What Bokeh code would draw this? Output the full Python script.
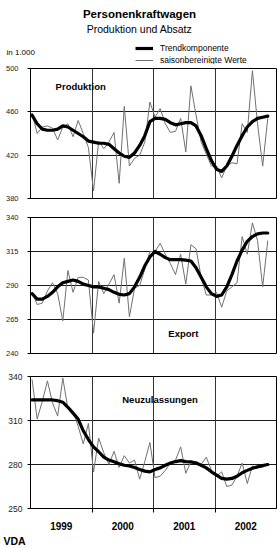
import numpy as np
from bokeh.plotting import figure
from bokeh.models import (Range1d, FixedTicker, Grid, LinearAxis, Label,
                          Legend, LegendItem, Title)
from bokeh.layouts import column
from bokeh.embed import file_html
from bokeh.resources import INLINE

# ---------------- data (monthly, Jan 1999 .. Nov 2002, in 1.000) ----------------
years = ["1999", "2000", "2001", "2002"]

prod_raw = [459, 440, 446, 447, 445, 434, 446, 449, 437, 452, 440, 427,
            387, 433, 426, 432, 441, 394, 465, 410, 417, 420, 432, 469,
            455, 463, 449, 441, 442, 454, 423, 484, 457, 432, 421, 410,
            410, 399, 410, 413, 412, 449, 441, 498, 449, 410, 454]
prod_trend = [457, 449, 444, 443, 443, 444, 447, 446, 443, 440, 437, 433,
              432, 431, 431, 430, 426, 422, 419, 418, 422, 429, 438, 451,
              454, 454, 453, 450, 448, 449, 450, 450, 447, 438, 426, 415,
              407, 405, 410, 419, 429, 438, 446, 451, 454, 455, 456]

exp_raw = [285, 276, 277, 286, 292, 284, 264, 301, 285, 296, 296, 294,
           255, 293, 284, 291, 298, 277, 310, 267, 288, 290, 302, 315,
           315, 321, 313, 306, 298, 313, 291, 320, 317, 296, 283, 283,
           285, 274, 286, 289, 292, 326, 313, 336, 323, 289, 323]
exp_trend = [284, 280, 280, 282, 285, 289, 292, 293, 294, 293, 291, 290,
             289, 289, 288, 287, 285, 283.5, 283, 284, 289, 296, 304.5, 311,
             315, 313, 310.5, 309, 309, 309, 308.6, 308, 303, 296, 289, 284,
             282, 283, 289, 298, 308, 316, 322.5, 326, 328, 328.6, 328.6]

neu_raw = [338, 311, 323, 337, 322, 313, 339, 318, 316, 306, 294, 308,
           275, 298, 288, 280, 289, 278, 286, 281, 283, 270, 282, 295,
           271, 272, 276, 281, 283, 292, 274, 282, 282, 280, 285, 276,
           272, 275, 265, 266, 272, 281, 267, 279, 278, 278, 280]
neu_trend = [324, 324, 324, 324, 324, 323.5, 322.5, 319, 315, 311, 303, 297,
             292, 288.7, 285, 283, 281.8, 280.5, 279.5, 279, 278, 276.6, 275.5, 275,
             276.6, 277.7, 279.5, 281, 282, 282.6, 282, 281.8, 281, 279.5, 277.7, 275,
             272.8, 270.5, 270, 270.5, 272, 274.4, 276, 277.4, 278.4, 279.3, 280]

prod_ticks = [380, 420, 460, 500]
exp_ticks = [240, 265, 290, 315, 340]
neu_ticks = [250, 280, 310, 340]

# month index (0 = Jan 1999), points plotted early in each month
months = np.arange(len(prod_raw)) + 0.3

FONT = "Liberation Sans"
W = 280
RAW_COLOR = "#707070"
GRID_COLOR = "#1a1a1a"


def panel(height, b_top, b_bottom, yr, yticks, raw, trend, name, nx, ny,
          tick_size, standoff):
    p = figure(width=W, height=height, x_range=Range1d(0, 48),
               y_range=Range1d(*yr), x_axis_type=None, title=None,
               output_backend="svg", toolbar_location=None,
               min_border_left=30, min_border_right=4,
               min_border_top=b_top, min_border_bottom=b_bottom)
    p.outline_line_color = "black"
    p.outline_line_width = 1
    p.background_fill_color = "white"
    p.border_fill_color = "white"
    yt = FixedTicker(ticks=yticks)
    p.yaxis.ticker = yt
    p.ygrid.ticker = yt
    p.ygrid.grid_line_color = GRID_COLOR
    p.ygrid.grid_line_width = 1
    p.yaxis.major_tick_out = 3
    p.yaxis.major_tick_in = 0
    p.yaxis.minor_tick_line_color = None
    p.yaxis.axis_line_color = "black"
    p.yaxis.major_tick_line_color = "black"
    p.yaxis.major_label_standoff = standoff
    p.yaxis.major_label_text_font = FONT
    p.yaxis.major_label_text_font_size = tick_size
    p.yaxis.major_label_text_color = "#222222"
    p.add_layout(Grid(dimension=0, ticker=FixedTicker(ticks=[12, 24, 36]),
                      grid_line_color="#333333", grid_line_width=1))
    p.line(months, raw, line_color=RAW_COLOR, line_width=1)
    p.line(months, trend, line_color="black", line_width=3.2,
           line_join="round", line_cap="round")
    p.add_layout(Label(x=nx, y=ny, text=name, text_font=FONT,
                       text_font_size="9.5px", text_font_style="bold",
                       text_baseline="middle", text_align="left",
                       text_color="black"))
    return p


# ---------------- header ----------------
h = figure(width=W, height=64, x_range=Range1d(0, 280), y_range=Range1d(64, 0),
           x_axis_type=None, y_axis_type=None, title=None,
           output_backend="svg", toolbar_location=None,
           min_border=0, outline_line_color=None)
h.xgrid.visible = False
h.ygrid.visible = False
h.add_layout(Label(x=139, y=13, text="Personenkraftwagen", text_font=FONT,
                   text_font_size="11.5px", text_font_style="bold",
                   text_align="center", text_baseline="middle",
                   text_color="black"))
h.add_layout(Label(x=139, y=28, text="Produktion und Absatz", text_font=FONT,
                   text_font_size="10.5px", text_align="center",
                   text_baseline="middle", text_color="black"))
h.add_layout(Label(x=6, y=52, text="in 1.000", text_font=FONT,
                   text_font_size="8px", text_align="left",
                   text_baseline="middle", text_color="black"))
# legend entries (renderers hidden; the header only carries the legend)
r_trend = h.line(months, prod_trend, line_color="black", line_width=3.2, visible=False)
r_raw = h.line(months, prod_raw, line_color=RAW_COLOR, line_width=1, visible=False)
leg = Legend(items=[LegendItem(label="Trendkomponente", renderers=[r_trend]),
                    LegendItem(label="saisonbereinigte Werte", renderers=[r_raw])],
             location=(135, -2), orientation="vertical",
             border_line_color=None, background_fill_alpha=0,
             inactive_fill_alpha=0,
             padding=0, margin=0, spacing=0, label_height=12, glyph_height=12,
             glyph_width=18, label_standoff=7,
             label_text_font=FONT, label_text_font_size="8.5px",
             label_text_color="black",
             label_text_baseline="middle")
h.add_layout(leg)

# ---------------- panels ----------------
p1 = panel(143, 4, 9, (380, 500), prod_ticks, prod_raw, prod_trend,
           "Produktion", 4.9, 483.4, "7.5px", 9)
p2 = panel(155, 10, 9, (240, 340), exp_ticks, exp_raw, exp_trend,
           "Export", 26.9, 254.7, "7.5px", 9)
p3 = panel(186, 14, 40, (250, 340), neu_ticks, neu_raw, neu_trend,
           "Neuzulassungen", 17.9, 324.3, "8.5px", 5)

xax = LinearAxis(ticker=FixedTicker(ticks=[6, 18, 30, 42], minor_ticks=[12, 24, 36]),
                 major_label_overrides={6: years[0], 18: years[1], 30: years[2], 42: years[3]},
                 major_tick_out=0, major_tick_in=0,
                 minor_tick_out=4, minor_tick_in=0,
                 minor_tick_line_color="black",
                 axis_line_color="black",
                 major_label_standoff=9,
                 major_label_text_font=FONT, major_label_text_font_size="10px",
                 major_label_text_font_style="bold", major_label_text_color="black")
p3.add_layout(xax, "below")
p3.add_layout(Title(text="VDA", align="left", offset=-27, standoff=0,
                    text_line_height=0.6,
                    text_font=FONT, text_font_size="10.5px",
                    text_font_style="bold", text_color="black"), "below")

layout = column(h, column(p1, p2, p3, spacing=0), spacing=0)
open("out.html", "w").write(file_html(layout, INLINE))
